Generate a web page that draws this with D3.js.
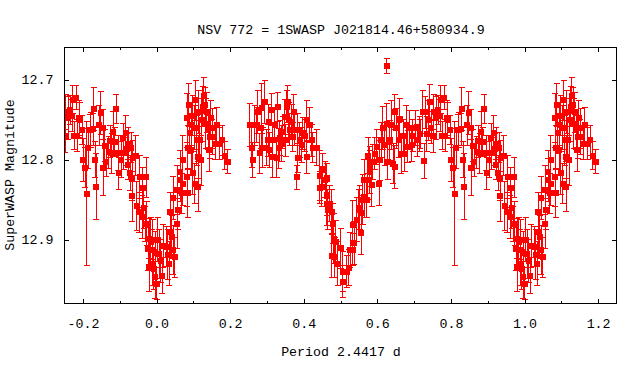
<!DOCTYPE html>
<html><head><meta charset="utf-8">
<script src="https://cdn.jsdelivr.net/npm/d3@7"></script>
<style>
body{margin:0;background:#fff}
svg{display:block;background:#fff}
text{font-family:"Liberation Mono","DejaVu Sans Mono",monospace;font-size:13.3px;fill:#000}
</style>
</head><body><svg id="c" width="640" height="384"></svg>
<script>
const title = "NSV 772 = 1SWASP J021814.46+580934.9";
const xLabel = "Period 2.4417 d";
const yLabel = "SuperWASP Magnitude";
const xMajor = [-0.2, 0.0, 0.2, 0.4, 0.6, 0.8, 1.0, 1.2];
const xMinor = [-0.1, 0.1, 0.3, 0.5, 0.7, 0.9, 1.1];
const yTicks = [12.7, 12.8, 12.9];

// base phase window [-0.25, 0.75); points with phase < 0.2 are repeated one cycle later
const phase = [
-0.248,-0.246,-0.240,-0.235,-0.229,-0.227,-0.224,-0.218,-0.216,-0.210,-0.208,-0.202,-0.199,-0.194,-0.189,-0.186,-0.180,-0.178,-0.172,-0.170,
-0.167,-0.164,-0.156,-0.151,-0.145,-0.145,-0.140,-0.137,-0.130,-0.126,-0.121,-0.117,-0.113,-0.110,-0.104,-0.102,-0.096,-0.091,-0.089,-0.083,
-0.080,-0.077,-0.077,-0.072,-0.069,-0.066,-0.066,-0.064,-0.056,-0.053,-0.047,-0.045,-0.039,-0.037,-0.034,-0.031,-0.028,-0.026,-0.023,-0.020,
-0.020,-0.015,-0.012,-0.010,-0.010,-0.007,-0.004,-0.004,0.001,0.004,0.007,0.012,0.015,
0.018,0.028,0.031,0.034,0.037,0.037,0.042,0.045,0.045,0.050,0.056,0.056,0.058,0.064,0.064,0.069,0.072,0.072,0.083,0.083,
0.085,0.085,0.088,0.091,0.094,0.096,0.099,0.099,0.104,0.104,0.107,0.110,0.113,0.113,0.115,0.118,0.121,0.123,0.126,0.129,
0.132,0.134,0.137,0.140,0.143,0.145,0.148,0.151,0.153,0.159,0.164,0.172,0.178,0.186,0.194,
0.254,0.259,0.262,0.267,0.273,0.275,0.281,0.284,0.286,0.289,0.294,0.300,0.303,0.305,0.308,0.313,0.316,0.316,0.322,0.327,
0.330,0.332,0.335,0.341,0.343,0.349,0.351,0.354,0.357,0.360,0.362,0.368,0.370,0.373,0.376,0.381,0.384,0.384,0.389,0.395,
0.398,0.403,0.408,0.408,0.417,0.422,0.425,0.436,0.444,0.444,0.449,0.452,0.458,0.463,0.463,0.463,0.465,0.471,0.476,0.476,
0.479,0.482,0.484,0.487,0.493,0.501,0.506,0.506,0.517,0.522,0.527,0.533,0.533,0.538,0.544,0.549,0.552,0.557,0.557,0.560,
0.565,0.565,0.571,0.574,0.575,0.579,0.579,0.585,0.588,0.593,0.598,0.605,0.606,0.611,0.615,0.620,0.625,0.625,0.629,0.634,
0.638,0.643,0.647,0.647,0.652,0.658,0.661,0.665,0.671,0.674,0.679,0.683,0.688,0.693,0.697,0.704,0.709,0.715,0.717,0.724,
0.727,0.730,0.735,0.738,0.742,0.747
];
const mag = [
12.771,12.741,12.748,12.738,12.745,12.725,12.770,12.723,12.770,12.748,12.751,12.763,12.801,12.810,12.843,12.786,12.763,12.763,12.762,12.737,
12.800,12.834,12.757,12.742,12.760,12.810,12.783,12.803,12.791,12.777,12.792,12.765,12.778,12.737,12.792,12.817,12.800,12.773,12.792,12.767,
12.787,12.807,12.780,12.817,12.785,12.824,12.846,12.798,12.795,12.858,12.866,12.822,12.872,12.835,12.861,12.881,12.822,12.880,12.912,12.899,
12.934,12.903,12.913,12.900,12.930,12.937,12.917,12.947,12.955,12.900,12.918,12.927,12.945,
12.908,12.909,12.919,12.930,12.891,12.866,12.897,12.913,12.848,12.922,12.838,12.880,12.863,12.826,12.816,12.842,12.830,12.801,12.822,12.748,
12.785,12.842,12.732,12.767,12.788,12.757,12.817,12.745,12.760,12.830,12.726,12.776,12.797,12.834,12.741,12.776,12.801,12.751,12.734,12.720,
12.732,12.755,12.741,12.763,12.788,12.772,12.748,12.772,12.761,12.780,12.757,12.780,12.776,12.795,12.803,
12.757,12.785,12.801,12.757,12.757,12.741,12.792,12.761,12.736,12.785,12.728,12.785,12.776,12.753,12.788,12.738,12.776,12.797,12.757,12.798,
12.734,12.786,12.773,12.780,12.766,12.747,12.776,12.734,12.728,12.751,12.763,12.753,12.772,12.741,12.763,12.822,12.798,12.763,12.776,12.782,
12.767,12.770,12.751,12.797,12.757,12.776,12.785,12.785,12.820,12.835,12.834,12.813,12.825,12.823,12.845,12.855,12.863,12.855,12.865,12.921,
12.880,12.899,12.922,12.903,12.930,12.911,12.940,12.953,12.940,12.935,12.913,12.913,12.882,12.904,12.875,12.863,12.860,12.867,12.892,12.850,
12.847,12.825,12.850,12.825,12.795,12.809,12.816,12.832,12.803,12.793,12.784,12.830,12.801,12.776,12.761,12.782,12.755,12.683,12.803,12.776,
12.757,12.805,12.809,12.741,12.761,12.776,12.749,12.793,12.770,12.793,12.757,12.784,12.761,12.782,12.770,12.761,12.776,12.768,12.768,12.741,
12.802,12.741,12.768,12.751,12.728,12.760
];
const err = [
0.020,0.022,0.027,0.018,0.020,0.018,0.018,0.015,0.020,0.022,0.022,0.018,0.027,0.025,0.090,0.025,0.019,0.022,0.020,0.027,
0.022,0.041,0.025,0.027,0.022,0.035,0.020,0.018,0.020,0.020,0.025,0.025,0.018,0.018,0.022,0.020,0.022,0.018,0.020,0.022,
0.020,0.018,0.020,0.022,0.019,0.027,0.031,0.022,0.025,0.031,0.025,0.027,0.027,0.025,0.025,0.022,0.025,0.027,0.027,0.025,
0.031,0.030,0.025,0.025,0.027,0.025,0.027,0.027,0.020,0.027,0.031,0.027,0.022,
0.027,0.025,0.031,0.027,0.022,0.025,0.027,0.031,0.027,0.025,0.031,0.031,0.025,0.027,0.027,0.025,0.027,0.031,0.037,0.031,
0.027,0.031,0.027,0.025,0.031,0.025,0.027,0.025,0.027,0.025,0.025,0.031,0.027,0.031,0.027,0.025,0.031,0.027,0.025,0.022,
0.022,0.031,0.025,0.025,0.027,0.027,0.022,0.022,0.025,0.020,0.022,0.020,0.019,0.018,0.015,
0.027,0.025,0.022,0.025,0.022,0.027,0.025,0.025,0.031,0.025,0.027,0.022,0.020,0.022,0.022,0.020,0.022,0.025,0.020,0.025,
0.018,0.025,0.022,0.022,0.020,0.022,0.020,0.020,0.020,0.022,0.020,0.022,0.018,0.022,0.020,0.015,0.018,0.020,0.022,0.022,
0.020,0.020,0.025,0.020,0.022,0.020,0.019,0.022,0.031,0.020,0.025,0.020,0.022,0.018,0.025,0.027,0.025,0.022,0.027,0.027,
0.025,0.031,0.025,0.027,0.027,0.025,0.025,0.020,0.020,0.022,0.022,0.020,0.031,0.027,0.027,0.025,0.027,0.022,0.027,0.031,
0.025,0.025,0.022,0.025,0.022,0.025,0.027,0.027,0.022,0.020,0.022,0.027,0.025,0.022,0.027,0.025,0.025,0.009,0.022,0.025,
0.031,0.025,0.027,0.022,0.025,0.022,0.025,0.025,0.020,0.022,0.025,0.020,0.022,0.020,0.020,0.022,0.020,0.022,0.018,0.027,
0.022,0.020,0.022,0.025,0.022,0.020
];

const svg = d3.select("#c");
const x = d3.scaleLinear().domain([-0.25, 1.25]).range([64.5, 616.5]);
const y = d3.scaleLinear().domain([12.66, 12.98]).range([47.5, 303.5]);
const [x0, x1] = x.range(), [y0, y1] = y.range();

svg.append("defs").append("clipPath").attr("id", "clip")
  .append("rect").attr("x", x0).attr("y", y0).attr("width", x1 - x0).attr("height", y1 - y0);

const pts = [];
phase.forEach((p, i) => {
  pts.push({p: p, m: mag[i], e: err[i]});
  if (p < 0.2) pts.push({p: p + 1, m: mag[i], e: err[i]});
});

const red = "#ff0000";
const marks = svg.append("g").attr("clip-path", "url(#clip)").attr("shape-rendering", "crispEdges");
const g = marks.selectAll("g.pt").data(pts).join("g").attr("class", "pt");
g.append("line").attr("x1", d => x(d.p)).attr("x2", d => x(d.p))
  .attr("y1", d => y(d.m - d.e)).attr("y2", d => y(d.m + d.e)).attr("stroke", red);
g.append("line").attr("x1", d => x(d.p) - 3).attr("x2", d => x(d.p) + 3)
  .attr("y1", d => y(d.m - d.e)).attr("y2", d => y(d.m - d.e)).attr("stroke", red);
g.append("line").attr("x1", d => x(d.p) - 3).attr("x2", d => x(d.p) + 3)
  .attr("y1", d => y(d.m + d.e)).attr("y2", d => y(d.m + d.e)).attr("stroke", red);
g.append("rect").attr("x", d => x(d.p) - 3).attr("y", d => y(d.m) - 3)
  .attr("width", 6).attr("height", 6).attr("fill", red);

function clean(sel){ sel.select(".domain").remove(); sel.attr("font-family", null).attr("font-size", null); sel.selectAll("line").attr("stroke", "#000"); sel.attr("shape-rendering","crispEdges"); }

const fmt = d => d.toFixed(1);
svg.append("g").attr("transform", `translate(0,${y1})`)
  .call(d3.axisBottom(x).tickValues(xMajor).tickFormat(fmt).tickSize(-4.5).tickPadding(15)).call(clean);
svg.append("g").attr("transform", `translate(0,${y1})`)
  .call(d3.axisBottom(x).tickValues(xMinor).tickFormat("").tickSize(-2.5)).call(clean);
svg.append("g").attr("transform", `translate(0,${y0})`)
  .call(d3.axisTop(x).tickValues(xMajor).tickFormat("").tickSize(-4.5)).call(clean);
svg.append("g").attr("transform", `translate(0,${y0})`)
  .call(d3.axisTop(x).tickValues(xMinor).tickFormat("").tickSize(-2.5)).call(clean);
svg.append("g").attr("transform", `translate(${x0},0)`)
  .call(d3.axisLeft(y).tickValues(yTicks).tickFormat(fmt).tickSize(-4.5).tickPadding(11)).call(clean);
svg.append("g").attr("transform", `translate(${x1},0)`)
  .call(d3.axisRight(y).tickValues(yTicks).tickFormat("").tickSize(-4.5)).call(clean);

svg.append("rect").attr("x", x0).attr("y", y0).attr("width", x1 - x0).attr("height", y1 - y0)
  .attr("fill", "none").attr("stroke", "#000").attr("shape-rendering", "crispEdges");

svg.append("text").attr("x", 341).attr("y", 33.5).attr("text-anchor", "middle").text(title);
svg.append("text").attr("x", 341).attr("y", 355.5).attr("text-anchor", "middle").text(xLabel);
svg.append("text").attr("transform", "translate(13.5,175) rotate(-90)").attr("text-anchor", "middle").text(yLabel);
</script>
</body></html>
